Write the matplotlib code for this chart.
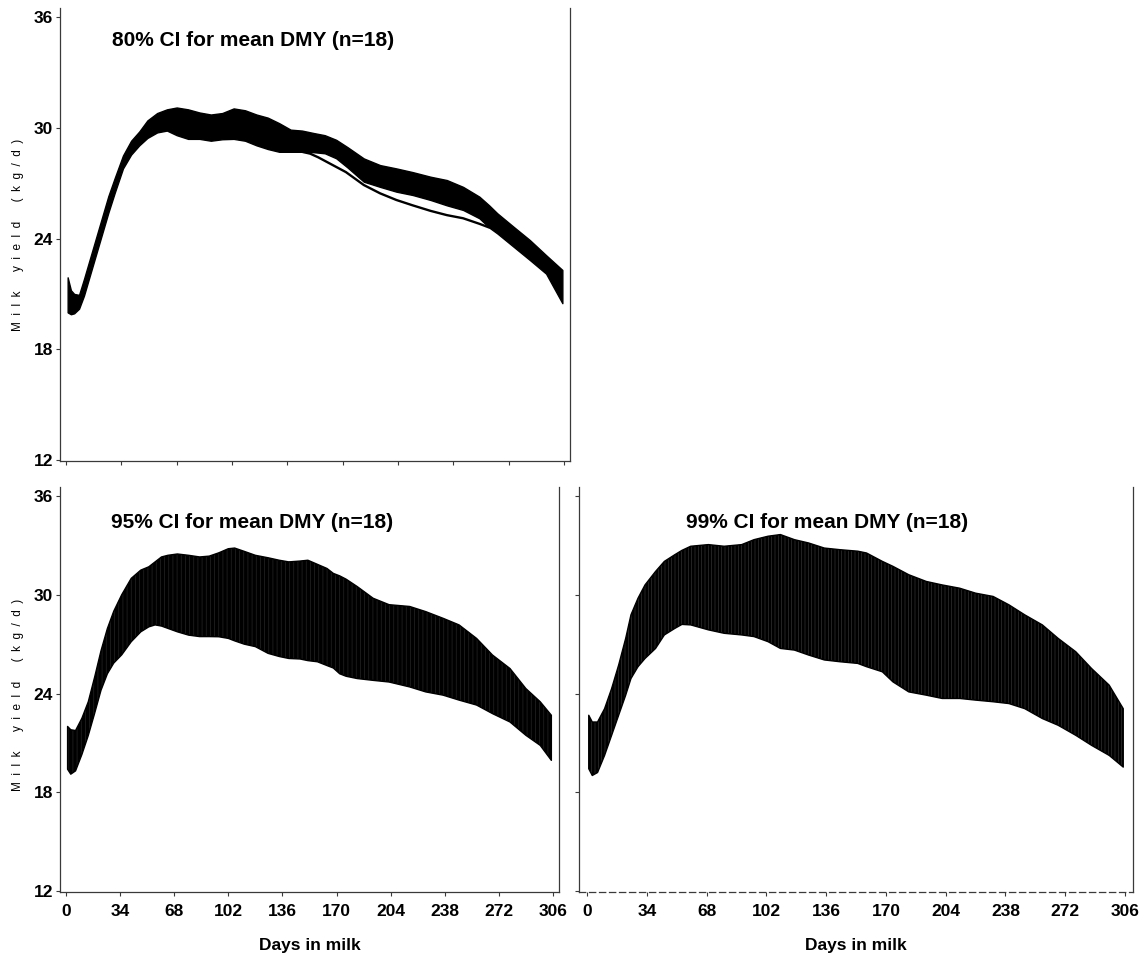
import matplotlib
matplotlib.use("Agg")
import matplotlib.pyplot as plt

plt.rcParams['font.family'] = ['Liberation Sans', 'DejaVu Sans']
plt.rcParams['hatch.linewidth'] = 0.5

# ---- 80% confidence band for mean daily milk yield ----
days_80 = [1, 3, 5, 8, 11, 14, 18, 22, 26, 30, 35, 40, 45, 50, 56, 62, 68, 75, 82, 89,
           96, 103, 110, 117, 124, 131, 138, 145, 152, 159, 166, 173, 183, 193, 203, 213,
           224, 234, 244, 254, 260, 265, 275, 285, 295, 305]
hi_80 = [21.9, 21.2, 21.0, 20.95, 21.8, 22.7, 23.9, 25.1, 26.3, 27.3, 28.5, 29.3, 29.8, 30.4,
         30.8, 31.0, 31.1, 31.0, 30.83, 30.72, 30.8, 31.05, 30.95, 30.72, 30.55, 30.25, 29.9,
         29.85, 29.72, 29.6, 29.35, 28.95, 28.34, 27.98, 27.8, 27.6, 27.35, 27.17, 26.8, 26.27,
         25.8, 25.37, 24.64, 23.92, 23.1, 22.3]
lo_80 = [20.0, 19.9, 19.95, 20.2, 20.9, 21.8, 23.0, 24.2, 25.4, 26.5, 27.8, 28.55, 29.05, 29.45,
         29.75, 29.85, 29.6, 29.4, 29.4, 29.3, 29.38, 29.4, 29.3, 29.05, 28.85, 28.7, 28.7,
         28.7, 28.68, 28.62, 28.35, 27.85, 27.08, 26.8, 26.54, 26.36, 26.09, 25.8, 25.55, 25.1,
         24.6, 24.28, 23.56, 22.84, 22.1, 20.5]
line_days_80 = [145, 150, 155, 162, 172, 183, 193, 203, 213, 224, 234, 244, 254, 260]
line_80 = [28.7, 28.6, 28.4, 28.07, 27.6, 26.9, 26.45, 26.09, 25.8, 25.5, 25.27, 25.1, 24.8, 24.6]

# ---- 95% confidence band ----
days_95 = [1, 3, 6, 10, 14, 18, 22, 26, 30, 35, 41, 47, 52, 56, 60, 64, 70, 77, 84, 90,
           96, 102, 106, 112, 119, 127, 134, 140, 147, 152, 158, 164, 168, 172, 176, 183,
           193, 203, 216, 226, 237, 247, 258, 268, 279, 289, 298, 305]
hi_95 = [22.0, 21.8, 21.75, 22.5, 23.5, 25.0, 26.6, 27.95, 29.0, 30.0, 31.0, 31.5, 31.7, 32.0,
         32.3, 32.4, 32.48, 32.4, 32.3, 32.35, 32.55, 32.8, 32.84, 32.64, 32.4, 32.25, 32.1,
         32.0, 32.05, 32.1, 31.85, 31.6, 31.3, 31.15, 30.95, 30.5, 29.79, 29.4, 29.29, 28.98,
         28.57, 28.17, 27.35, 26.34, 25.52, 24.3, 23.5, 22.68]
lo_95 = [19.4, 19.1, 19.3, 20.3, 21.45, 22.8, 24.2, 25.2, 25.85, 26.35, 27.15, 27.75, 28.05,
         28.17, 28.1, 27.96, 27.75, 27.55, 27.46, 27.46, 27.45, 27.35, 27.2, 27.0, 26.85, 26.44,
         26.25, 26.13, 26.1, 26.0, 25.93, 25.7, 25.55, 25.2, 25.05, 24.91, 24.8, 24.7, 24.4,
         24.1, 23.9, 23.6, 23.3, 22.78, 22.27, 21.46, 20.85, 19.94]

# ---- 99% confidence band ----
days_99 = [1, 3, 6, 10, 14, 18, 22, 25, 29, 33, 39, 44, 50, 54, 59, 69, 78, 88, 95, 103,
           110, 118, 126, 135, 144, 154, 159, 168, 174, 183, 193, 202, 212, 221, 231, 240,
           249, 259, 268, 278, 287, 297, 305]
hi_99 = [22.68, 22.27, 22.27, 23.08, 24.3, 25.73, 27.35, 28.78, 29.79, 30.6, 31.42, 32.03,
         32.44, 32.7, 32.95, 33.05, 32.95, 33.05, 33.35, 33.56, 33.66, 33.35, 33.15, 32.84,
         32.74, 32.65, 32.54, 32.03, 31.73, 31.22, 30.81, 30.6, 30.4, 30.1, 29.9, 29.39, 28.78,
         28.17, 27.35, 26.54, 25.52, 24.51, 23.08]
lo_99 = [19.43, 19.02, 19.2, 20.24, 21.46, 22.68, 23.9, 24.91, 25.63, 26.13, 26.74, 27.56,
         27.96, 28.2, 28.17, 27.87, 27.66, 27.56, 27.46, 27.15, 26.74, 26.64, 26.34, 26.04,
         25.93, 25.83, 25.63, 25.32, 24.71, 24.1, 23.9, 23.7, 23.7, 23.6, 23.5, 23.39, 23.08,
         22.48, 22.07, 21.46, 20.85, 20.24, 19.53]

x_ticks = [0, 34, 68, 102, 136, 170, 204, 238, 272, 306]
y_ticks = [12, 18, 24, 30, 36]
titles = ["80% CI for mean DMY (n=18)", "95% CI for mean DMY (n=18)", "99% CI for mean DMY (n=18)"]
x_label = "Days in milk"
y_label = "M  i  l  k      y  i  e  l  d      (  k  g  /  d  )"

W, H = 1148, 966
fig = plt.figure(figsize=(W / 100, H / 100), dpi=100)


def px_axes(left, top, right, bottom):
    return fig.add_axes([left / W, 1 - bottom / H, (right - left) / W, (bottom - top) / H])


def style(ax, xlim, ylim, show_xlabels, show_ylabels):
    ax.set_xlim(*xlim)
    ax.set_ylim(*ylim)
    ax.set_xticks(x_ticks)
    ax.set_yticks(y_ticks)
    ax.spines['top'].set_visible(False)
    for s in ('left', 'right', 'bottom'):
        ax.spines[s].set_linewidth(0.9)
        ax.spines[s].set_color('#3a3a3a')
    ax.tick_params(axis='both', direction='out', length=3, width=0.8, color='#3a3a3a')
    ax.tick_params(axis='x', pad=6, labelsize=12.5, labelbottom=show_xlabels)
    ax.tick_params(axis='y', pad=2, labelsize=12.5, labelleft=show_ylabels)
    for lab in ax.get_xticklabels() + ax.get_yticklabels():
        lab.set_fontweight('bold')


# top-left: 80% band
ax1 = px_axes(60, 8, 570, 461)
ax1.fill_between(days_80, lo_80, hi_80, facecolor='black', edgecolor='black', linewidth=1.0)
ax1.plot(line_days_80, line_80, color='black', linewidth=1.7, solid_capstyle='round')
style(ax1, (-3.7, 309.7), (11.95, 36.49), False, True)

# bottom-left: 95% band
ax2 = px_axes(60, 487, 559, 892)
ax2.fill_between(days_95, lo_95, hi_95, facecolor='black', edgecolor='#262626', linewidth=0,
                 hatch='||||')
ax2.fill_between(days_95, lo_95, hi_95, facecolor='none', edgecolor='black', linewidth=1.0)
style(ax2, (-3.77, 309.8), (11.94, 36.55), True, True)
ax2.set_xlabel(x_label, fontsize=12.5, fontweight='bold', labelpad=13)

# bottom-right: 99% band
ax3 = px_axes(579, 487, 1133, 892)
ax3.fill_between(days_99, lo_99, hi_99, facecolor='black', edgecolor='#333333', linewidth=0,
                 hatch='|||||')
ax3.fill_between(days_99, lo_99, hi_99, facecolor='none', edgecolor='black', linewidth=1.0)
style(ax3, (-4.55, 310.55), (11.94, 36.55), True, False)
ax3.spines['bottom'].set_linestyle((0, (5, 3)))
ax3.set_xlabel(x_label, fontsize=12.5, fontweight='bold', labelpad=13)

# panel titles
fig.text(112 / W, 1 - 40 / H, titles[0], fontsize=15, fontweight='bold', ha='left', va='center')
fig.text(111 / W, 1 - 523 / H, titles[1], fontsize=15, fontweight='bold', ha='left', va='center')
fig.text(686 / W, 1 - 523 / H, titles[2], fontsize=15, fontweight='bold', ha='left', va='center')

# y-axis labels
fig.text(18 / W, 1 - 235 / H, y_label, fontsize=8.5, rotation=90, ha='center', va='center')
fig.text(18 / W, 1 - 695 / H, y_label, fontsize=8.5, rotation=90, ha='center', va='center')

fig.savefig("out.png", dpi=100, facecolor='white')
